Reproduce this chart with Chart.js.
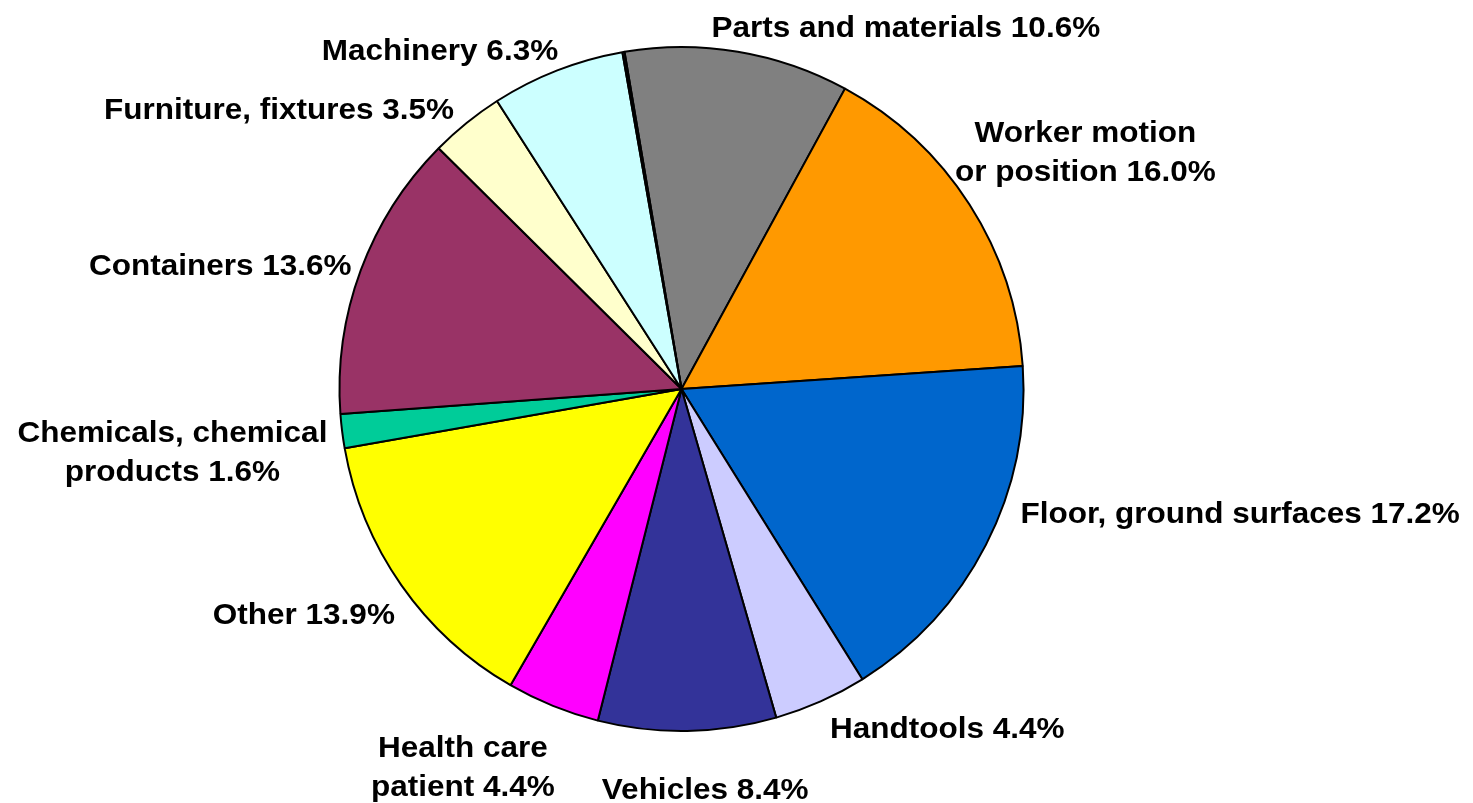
<!DOCTYPE html>
<html>
<head>
<meta charset="utf-8">
<script src="https://cdn.jsdelivr.net/npm/chart.js@4.4.1/dist/chart.umd.min.js"></script>
<style>
  body { margin: 0; background: #fff; }
  #wrap { width: 1473px; height: 803px; position: relative; }
</style>
</head>
<body>
<div id="wrap"><canvas id="pie-chart"></canvas></div>
<script>
// slices in clockwise order, starting at "Parts and materials"
const categories = [
  "Parts and materials",
  "Worker motion\nor position",
  "Floor, ground surfaces",
  "Handtools",
  "Vehicles",
  "Health care\npatient",
  "Other",
  "Chemicals, chemical\nproducts",
  "Containers",
  "Furniture, fixtures",
  "Machinery",
  "" // tiny unlabeled slice
];
const percents = [10.6, 16.0, 17.2, 4.4, 8.4, 4.4, 13.9, 1.6, 13.6, 3.5, 6.3, 0.1];
const colors = [
  "#808080", "#FF9900", "#0066CC", "#CCCCFF", "#333399", "#FF00FF",
  "#FFFF00", "#00CC99", "#993366", "#FFFFCC", "#CCFFFF", "#333333"
];

// manual nudges for the labels (px), like dragged labels in the original
const labelNudge = [
  [134, 8], [-4, -24], [48, -45], [74, 0], [16, 28], [-51, 15],
  [-13, 13], [-4, 16], [-6, 7], [-70, 12], [-70, 11], [0, 0]
];

const labelPlugin = {
  id: "outsideLabels",
  afterDatasetsDraw(chart) {
    const ctx = chart.ctx;
    const meta = chart.getDatasetMeta(0);
    const lineH = 39;
    const sx = 1.05;
    ctx.save();
    ctx.font = "bold 30px 'Liberation Sans', Arial, sans-serif";
    ctx.fillStyle = "#000";
    ctx.textAlign = "center";
    ctx.textBaseline = "middle";
    meta.data.forEach((arc, i) => {
      if (!categories[i]) return;
      const p = arc.getProps(["x", "y", "startAngle", "endAngle", "outerRadius"], true);
      const mid = (p.startAngle + p.endAngle) / 2;
      const cos = Math.cos(mid), sin = Math.sin(mid);
      const lines = (categories[i] + " " + percents[i].toFixed(1) + "%").split("\n");
      const w = Math.max(...lines.map((l) => ctx.measureText(l).width)) * sx;
      const h = lines.length * lineH;
      const R = p.outerRadius + 12;
      const cx = p.x + R * cos + (w / 2) * cos + labelNudge[i][0];
      const cy = p.y + R * sin + (h / 2) * sin + labelNudge[i][1];
      lines.forEach((line, k) => {
        const y = cy - h / 2 + lineH / 2 + k * lineH;
        ctx.save();
        ctx.translate(cx, y);
        ctx.scale(sx, 1);
        ctx.fillText(line, 0, 0);
        ctx.restore();
      });
    });
    ctx.restore();
  },
};

new Chart(document.getElementById("pie-chart"), {
  type: "pie",
  data: {
    labels: categories,
    datasets: [
      {
        data: percents,
        backgroundColor: colors,
        borderColor: "#000000",
        borderWidth: 2,
      },
    ],
  },
  options: {
    responsive: true,
    maintainAspectRatio: false,
    animation: false,
    rotation: -9.6,
    layout: { padding: { left: 0, right: 110, top: 46, bottom: 71 } },
    plugins: {
      legend: { display: false },
      tooltip: { enabled: false },
    },
  },
  plugins: [labelPlugin],
});
</script>
</body>
</html>
